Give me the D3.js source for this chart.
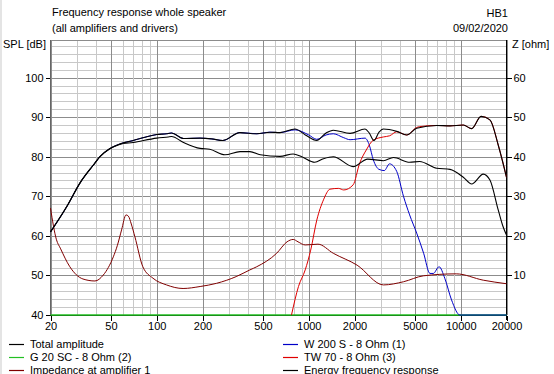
<!DOCTYPE html>
<html>
<head>
  <meta charset="utf-8" />
  <title>Frequency response whole speaker</title>
  <script src="https://cdnjs.cloudflare.com/ajax/libs/d3/7.8.5/d3.min.js"></script>
  <style>
    body { margin: 0; background: #fff; }
    svg text { font-family: "Liberation Sans", Arial, sans-serif; font-size: 11px; fill: #000; }
  </style>
</head>
<body>
  <div id="chart"></div>

  <script>
    // values: [frequency Hz, level]
    var totalAmplitude = [[20,61],[25.6,67.4],[31.3,73.4],[38.3,77.9],[42.3,80],[49,82],[57,83.2],[70,84.1],[85,85.0],[100,85.6],[116,85.8],[125,86.0],[150,84.6],[193,84.7],[230,84.5],[272,84.1],[352,86.1],[455,85.8],[555,86.2],[647,86.1],[812,87.0],[950,85.5],[1128,84.1],[1300,86.0],[1450,86.7],[1870,85.9],[2345,87.0],[2500,86.0],[2690,84.1],[2900,86.2],[3100,87.0],[3790,86.4],[4410,85.5],[5130,87.2],[6950,87.9],[8500,87.8],[10400,88.0],[11800,87.1],[13600,90.2],[15560,89.3],[17660,82.9],[20000,74.8]];

    var energyResponse = [[20,61],[25.6,67.4],[31.3,73.4],[38.3,77.9],[42.3,80],[49,82],[57,83.1],[70,83.6],[100,84.7],[119,85.0],[125,85.1],[150,83.6],[193,82.1],[223,81.9],[281,80.5],[353,81.3],[410,81.3],[480,80.5],[647,80.1],[790,80.7],[900,80.0],[1095,78.6],[1250,79.5],[1450,80.0],[1960,77.5],[2440,79.4],[3100,79.0],[3610,79.8],[4610,78.6],[5360,78.8],[6950,77.1],[8500,76.8],[10400,74.8],[11800,73.1],[14060,75.6],[15560,74.1],[17660,66.5],[19000,62.3],[20000,60.2]];

    var woofer = [[20,61],[25.6,67.4],[31.3,73.4],[38.3,77.9],[42.3,80],[49,82],[57,83.2],[70,84.1],[85,85.0],[100,85.6],[116,85.8],[125,86.0],[150,84.6],[193,84.7],[230,84.5],[272,84.1],[352,86.1],[455,85.8],[555,86.2],[647,86.1],[812,86.8],[1000,85.5],[1130,84.4],[1300,85.5],[1450,85.8],[1700,84.8],[1870,84.3],[2345,84.7],[2500,83.0],[2660,79.2],[2900,76.8],[3140,76.5],[3400,78.2],[3790,76.3],[4200,70.0],[4610,65.3],[5130,60.7],[5700,55.6],[6270,50.5],[6600,50.5],[7200,52.2],[7850,49.3],[8700,43.8],[9870,40],[20000,40]];

    var tweeter = [[770,40],[856,47.2],[948,51.4],[1030,56.4],[1130,64.0],[1250,69.1],[1380,71.8],[1570,72.0],[1700,71.6],[1960,72.9],[2160,78.3],[2390,81.7],[2660,84.2],[3100,85.0],[3410,85.3],[3790,86.3],[4410,85.5],[5130,87.4],[5360,87.6],[6950,87.9],[8500,87.8],[10400,88.0],[11800,87.1],[13600,90.2],[15560,89.3],[17660,82.9],[20000,74.8]];

    var midrange = [[20,40],[20000,40]];

    // impedance in ohm (right axis)
    var impedance = [[20,27.0],[21.9,19.0],[23.2,16.9],[26.8,12.2],[32.7,9.1],[39.2,8.6],[44.5,10.1],[51.8,14.7],[55,17.5],[58.7,21.5],[62.8,25.3],[65,25.0],[68,23.0],[71.8,19.8],[81,12.2],[94.4,9.3],[116,7.6],[149,6.7],[193,7.2],[247,8.0],[333,9.7],[410,11.4],[455,12.2],[615,15.6],[720,18.5],[790,19.1],[850,18.5],[948,17.7],[1150,17.9],[1450,15.6],[2080,12.6],[3100,7.6],[4200,8.4],[5680,9.9],[9340,10.4],[14060,8.8],[20000,7.9]];

    var freqTicks = [20, 50, 100, 200, 500, 1000, 2000, 5000, 10000, 20000];
    var freqGrid = [20,30,40,50,60,70,80,90,100,200,300,400,500,600,700,800,900,1000,2000,3000,4000,5000,6000,7000,8000,9000,10000,20000];
    var splTicks = [40, 50, 60, 70, 80, 90, 100];
    var ohmTicks = [10, 20, 30, 40, 50, 60];

    var legendItems = [
      { name: "Total amplitude", color: "#000000", col: 0, row: 0 },
      { name: "W 200 S - 8 Ohm (1)", color: "#0000c8", col: 1, row: 0 },
      { name: "G 20 SC - 8 Ohm (2)", color: "#22c022", col: 0, row: 1 },
      { name: "TW 70 - 8 Ohm (3)", color: "#e00000", col: 1, row: 1 },
      { name: "Impedance at amplifier 1", color: "#800000", col: 0, row: 2 },
      { name: "Energy frequency response", color: "#000000", col: 1, row: 2 }
    ];

    var width = 554, height = 374;
    var plotL = 50, plotR = 507, plotT = 40, plotB = 315;

    var svg = d3.select("#chart").append("svg")
      .attr("width", width)
      .attr("height", height);

    // window edge on the left
    svg.append("rect").attr("x", 0).attr("y", 0).attr("width", 2).attr("height", height).attr("fill", "#e4e4e4");

    var x = d3.scaleLog().domain([20, 20000]).range([plotL + 0.5, plotR - 0.5]);
    var y = d3.scaleLinear().domain([40, 109.5]).range([plotB, plotT]);
    var yZ = d3.scaleLinear().domain([0, 69.5]).range([plotB, plotT]);

    // grid
    var grid = svg.append("g").attr("shape-rendering", "crispEdges");
    var hLines = d3.range(42, 109, 2);
    grid.selectAll(".h").data(hLines).enter().append("line")
      .attr("x1", plotL).attr("x2", plotR)
      .attr("y1", d => Math.round(y(d)) + 0.5).attr("y2", d => Math.round(y(d)) + 0.5)
      .attr("stroke", d => d % 10 == 0 ? "#8c8c8c" : "#c8c8c8");
    grid.selectAll(".v").data(freqGrid).enter().append("line")
      .attr("x1", d => Math.round(x(d)) + 0.5).attr("x2", d => Math.round(x(d)) + 0.5)
      .attr("y1", plotT).attr("y2", plotB)
      .attr("stroke", d => freqTicks.indexOf(d) >= 0 ? "#8c8c8c" : "#c8c8c8");
    grid.append("line").attr("x1", plotL).attr("x2", plotR).attr("y1", plotT + 0.5).attr("y2", plotT + 0.5).attr("stroke", "#8c8c8c");

    // axes
    var axisL = svg.append("g").attr("transform", "translate(" + (plotL + 0.5) + ",0)")
      .call(d3.axisLeft(y).tickValues(splTicks).tickSize(5).tickPadding(2));
    var axisR = svg.append("g").attr("transform", "translate(" + (plotR - 0.5) + ",0)")
      .call(d3.axisRight(yZ).tickValues(ohmTicks).tickSize(5).tickPadding(2));
    var axisB = svg.append("g").attr("transform", "translate(0," + (plotB + 0.5) + ")")
      .call(d3.axisBottom(x).tickValues(freqTicks).tickFormat(d3.format("d")).tickSize(5).tickPadding(2));
    [axisL, axisR, axisB].forEach(function(a) {
      a.select(".domain").remove();
      a.selectAll("text").style("font-size", "11px").style("font-family", "Liberation Sans, Arial, sans-serif");
      a.selectAll("line").attr("stroke", "#000").attr("shape-rendering", "crispEdges");
    });
    svg.append("line").attr("x1", plotL + 0.5).attr("x2", plotL + 0.5).attr("y1", plotT).attr("y2", plotB).attr("stroke", "#666").attr("shape-rendering", "crispEdges");
    svg.append("line").attr("x1", plotR - 0.5).attr("x2", plotR - 0.5).attr("y1", plotT).attr("y2", plotB + 5).attr("stroke", "#000").attr("shape-rendering", "crispEdges");
    svg.append("line").attr("x1", plotL).attr("x2", plotR).attr("y1", plotB + 0.5).attr("y2", plotB + 0.5).attr("stroke", "#000").attr("shape-rendering", "crispEdges");

    // curves
    var lineDb = d3.line().x(d => x(d[0])).y(d => y(d[1])).curve(d3.curveMonotoneX);
    var lineZ = d3.line().x(d => x(d[0])).y(d => yZ(d[1])).curve(d3.curveMonotoneX);

    function drawCurve(data, gen, color, w) {
      svg.append("path").datum(data)
        .attr("d", gen)
        .attr("fill", "none")
        .attr("stroke", color)
        .attr("stroke-width", w);
    }
    drawCurve(midrange, lineDb, "#22c022", 1.3);
    drawCurve(woofer, lineDb, "#0000c8", 1);
    drawCurve(tweeter, lineDb, "#e00000", 1);
    drawCurve(impedance, lineZ, "#800000", 1);
    drawCurve(energyResponse, lineDb, "#000", 1.1);
    drawCurve(totalAmplitude, lineDb, "#000", 1.1);

    // titles
    svg.append("text").attr("x", 52).attr("y", 16).text("Frequency response whole speaker");
    svg.append("text").attr("x", 52).attr("y", 32).text("(all amplifiers and drivers)");
    svg.append("text").attr("x", 508).attr("y", 17).attr("text-anchor", "end").text("HB1");
    svg.append("text").attr("x", 508).attr("y", 32).attr("text-anchor", "end").text("09/02/2020");
    svg.append("text").attr("x", 3).attr("y", 48).text("SPL [dB]");
    svg.append("text").attr("x", 512).attr("y", 48).text("Z [ohm]");

    // legend
    var leg = svg.selectAll(".legend").data(legendItems).enter().append("g")
      .attr("transform", d => "translate(" + (d.col == 0 ? 9 : 283) + "," + (344 + d.row * 13) + ")");
    leg.append("line").attr("x1", 0).attr("x2", 15).attr("y1", 0.5).attr("y2", 0.5)
      .attr("stroke", d => d.color).attr("stroke-width", 1.2);
    leg.append("text").attr("x", 21).attr("y", 4).text(d => d.name);
  </script>
</body>
</html>
